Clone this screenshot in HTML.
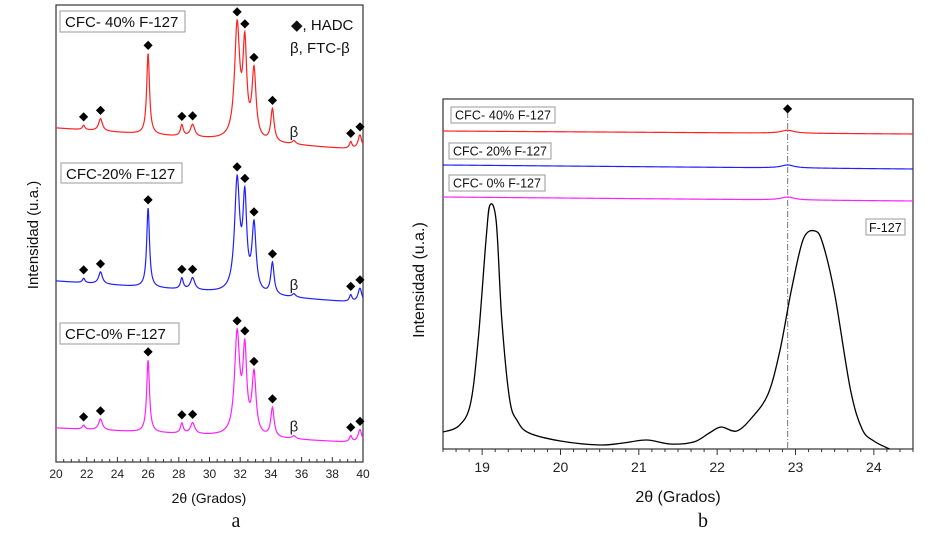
<!DOCTYPE html>
<html><head><meta charset="utf-8">
<style>
body{margin:0;background:#fff;}
svg{display:block;font-family:"Liberation Sans",sans-serif;}
</style></head>
<body>
<svg id="fig" width="929" height="533" viewBox="0 0 929 533">
<g id="pa"></g>
<g id="pb"></g>
</svg>
<script>
// ---- Panel a data ----
const peakPos = [21.8, 22.9, 26.0, 28.2, 28.9, 31.8, 32.3, 32.9, 34.1, 35.5, 39.2, 39.8];
const peakHeight = [4, 11, 72, 10, 11, 100, 80, 60, 29, 3, 6, 13];
const peakWidth = [0.1, 0.15, 0.11, 0.11, 0.17, 0.2, 0.15, 0.16, 0.13, 0.15, 0.1, 0.15];
const markerPos = [21.8, 22.9, 26.0, 28.2, 28.9, 31.8, 32.3, 32.9, 34.1, 39.2, 39.8];
const betaPos = [35.5];
const seriesNames = ["CFC- 40% F-127", "CFC-20% F-127", "CFC-0% F-127"];
const seriesColors = ["#ff2020", "#2020ff", "#ff20ff"];
const seriesBaseStart = [128, 281, 428];
const seriesBaseEnd = [150, 303, 443];
const seriesScale = [1.12, 1.1, 1.0];
const aTicks = [20, 22, 24, 26, 28, 30, 32, 34, 36, 38, 40];
// ---- Panel b data ----
const bTicks = [19, 20, 21, 22, 23, 24];
const f127X = [18.5, 18.7, 18.85, 18.95, 19.05, 19.1, 19.18, 19.25, 19.35, 19.45, 19.6, 20.0, 20.5, 20.8, 21.1, 21.4, 21.7, 21.9, 22.05, 22.25, 22.45, 22.65, 22.8, 22.95, 23.1, 23.25, 23.35, 23.5, 23.7, 23.85, 24.0, 24.2];
const f127Y = [17, 23, 45, 110, 210, 244, 227, 130, 50, 28, 16, 8, 4, 6, 9, 5, 7, 16, 22, 18, 32, 55, 98, 160, 210, 218, 205, 155, 60, 20, 8, 0];
const flatNames = ["CFC- 40% F-127", "CFC- 20% F-127", "CFC- 0% F-127"];
const flatStart = [131, 165, 197];
const flatEnd = [134, 169, 201];
const bumpPos = 22.9;
const bumpHeight = [3, 3, 3];

const NS = "http://www.w3.org/2000/svg";
function mk(parent, tag, attrs){const e=document.createElementNS(NS,tag);for(const k in attrs)e.setAttribute(k,attrs[k]);parent.appendChild(e);return e;}

// ===== Panel A =====
const pa = document.getElementById('pa');
const aL=56,aR=363,aT=5,aB=462;
const ax = v => aL + (v-20)/20*(aR-aL);
function patt(x, s){let y=0;for(let i=0;i<peakPos.length;i++){const d=(x-peakPos[i])/peakWidth[i];y+=peakHeight[i]/(1+d*d);}return y*s;}
let r=mk(pa,'rect',{x:aL,y:aT,width:aR-aL,height:aB-aT,fill:'none',stroke:'#333','stroke-width':1.2});

for(let si=0;si<3;si++){
  let d='';
  for(let x=20;x<=40.001;x+=0.02){
    const base=seriesBaseStart[si]+(seriesBaseEnd[si]-seriesBaseStart[si])*(x-20)/20;
    const y=base-patt(x,seriesScale[si]);
    d+=(d?'L':'M')+ax(x).toFixed(2)+','+y.toFixed(2);
  }
  const p=mk(pa,'path',{d:d,fill:'none',stroke:seriesColors[si],'stroke-width':1.2});
  
  markerPos.forEach((m,mi)=>{
    const base=seriesBaseStart[si]+(seriesBaseEnd[si]-seriesBaseStart[si])*(m-20)/20;
    const y=base-patt(m,seriesScale[si])-9;
    const t=mk(pa,'text',{x:ax(m),y:y+4,'text-anchor':'middle','font-size':12,fill:'#000'});
    t.textContent='◆';
    
  });
  betaPos.forEach(b=>{
    const base=seriesBaseStart[si]+(seriesBaseEnd[si]-seriesBaseStart[si])*(b-20)/20;
    const t=mk(pa,'text',{x:ax(b),y:base-8,'text-anchor':'middle','font-size':15,fill:'#222'});
    t.textContent='β';
    
  });
}
const legA=[[60,11,125,21],[61,163,121,20],[60,323,119,21]];
seriesNames.forEach((n,i)=>{
  const b=legA[i];
  const rr=mk(pa,'rect',{x:b[0],y:b[1],width:b[2],height:b[3],fill:'#fff',stroke:'#999'});
  
  const t=mk(pa,'text',{x:b[0]+5,y:b[1]+16,'font-size':15,fill:'#111'});t.textContent=n;
  
});
let t1=mk(pa,'text',{x:291,y:30,'font-size':15,fill:'#111'});t1.textContent='◆, HADC';

let t2=mk(pa,'text',{x:290,y:53,'font-size':15,fill:'#111'});t2.textContent='β, FTC-β';

for(let v=20;v<=40.001;v+=0.5){const maj=Math.abs(v-Math.round(v/2)*2)<0.01;mk(pa,'line',{x1:ax(v),x2:ax(v),y1:aB,y2:aB-(maj?5:3),stroke:'#333'});}
aTicks.forEach(v=>{const t=mk(pa,'text',{x:ax(v),y:aB+16,'text-anchor':'middle','font-size':12,fill:'#222'});t.textContent=v;
  });
let xa=mk(pa,'text',{x:209,y:503,'text-anchor':'middle','font-size':14,fill:'#111'});xa.textContent='2θ (Grados)';

let ya=mk(pa,'text',{x:0,y:0,'text-anchor':'middle','font-size':15,fill:'#111',transform:'translate(38,235) rotate(-90)'});ya.textContent='Intensidad (u.a.)';

let la=mk(pa,'text',{x:236,y:527,'text-anchor':'middle','font-size':20,'font-family':'Liberation Serif,serif',fill:'#111'});la.textContent='a';


// ===== Panel B =====
const pb=document.getElementById('pb');
const bL=443,bR=913,bT=99,bB=449;
const bx = v => bL + (v-18.5)/6*(bR-bL);
const by = v => bB - v;
let rb=mk(pb,'rect',{x:bL,y:bT,width:bR-bL,height:bB-bT,fill:'none',stroke:'#333','stroke-width':1.2});

let dl=mk(pb,'line',{x1:bx(22.9),x2:bx(22.9),y1:112,y2:bB,stroke:'#777','stroke-dasharray':'6,2,1,2'});

let dm=mk(pb,'text',{x:bx(22.9),y:112,'text-anchor':'middle','font-size':12});dm.textContent='◆';

for(let si=0;si<3;si++){
  let d='';
  for(let x=18.5;x<=24.501;x+=0.02){
    const base=flatStart[si]+(flatEnd[si]-flatStart[si])*(x-18.5)/6;
    const q=(x-bumpPos)/0.1;
    const y=base-bumpHeight[si]/(1+q*q);
    d+=(d?'L':'M')+bx(x).toFixed(2)+','+y.toFixed(2);
  }
  const p=mk(pb,'path',{d:d,fill:'none',stroke:seriesColors[si],'stroke-width':1.2});
  
}
// F-127 curve (Catmull-Rom)
let pts=f127X.map((x,i)=>[bx(x),by(f127Y[i])]);
let d='M'+pts[0][0]+','+pts[0][1];
for(let i=0;i<pts.length-1;i++){
  const p0=pts[Math.max(0,i-1)],p1=pts[i],p2=pts[i+1],p3=pts[Math.min(pts.length-1,i+2)];
  const c1=[p1[0]+(p2[0]-p0[0])/6,p1[1]+(p2[1]-p0[1])/6],c2=[p2[0]-(p3[0]-p1[0])/6,p2[1]-(p3[1]-p1[1])/6];
  d+='C'+c1.join(',')+' '+c2.join(',')+' '+p2.join(',');
}
let fp=mk(pb,'path',{d:d,fill:'none',stroke:'#000','stroke-width':1.3});

const legB=[[451,107,104,16],[449,143,102,16],[449,175,96,16]];
flatNames.forEach((n,i)=>{
  const b=legB[i];
  const rr=mk(pb,'rect',{x:b[0],y:b[1],width:b[2],height:b[3],fill:'#fff',stroke:'#999'});
  
  const t=mk(pb,'text',{x:b[0]+4,y:b[1]+12.5,'font-size':12.5,fill:'#111',textLength:b[2]-8});t.textContent=n;
  
});
let fr=mk(pb,'rect',{x:866,y:219,width:39,height:16,fill:'#fff',stroke:'#999'});

let ft=mk(pb,'text',{x:869,y:232,'font-size':12.5,fill:'#111'});ft.textContent='F-127';

for(let k=0;k<=36;k++){const v=18.5+k/6;const maj=Math.abs(v-Math.round(v))<0.01;mk(pb,'line',{x1:bx(v),x2:bx(v),y1:bB,y2:bB+(maj?6:3),stroke:'#333'});}
bTicks.forEach(v=>{const t=mk(pb,'text',{x:bx(v),y:bB+23,'text-anchor':'middle','font-size':14,fill:'#222'});t.textContent=v;
  });
let xb=mk(pb,'text',{x:678,y:502,'text-anchor':'middle','font-size':16,fill:'#111'});xb.textContent='2θ (Grados)';

let yb=mk(pb,'text',{x:0,y:0,'text-anchor':'middle','font-size':16,fill:'#111',transform:'translate(424,280) rotate(-90)'});yb.textContent='Intensidad (u.a.)';

let lb=mk(pb,'text',{x:703,y:527,'text-anchor':'middle','font-size':20,'font-family':'Liberation Serif,serif',fill:'#111'});lb.textContent='b';

</script>
</body></html>
